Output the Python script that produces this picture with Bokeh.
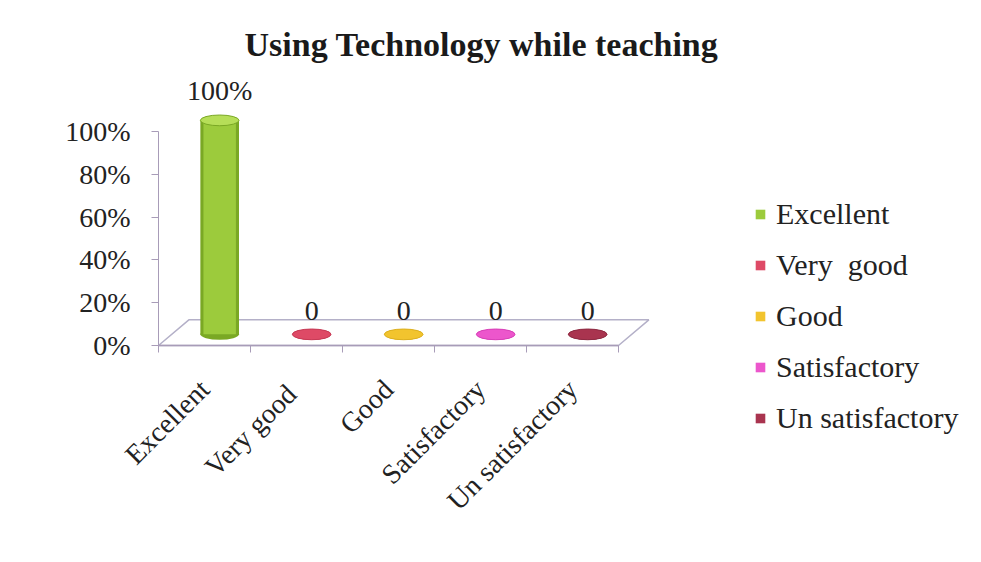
import math
from bokeh.plotting import figure
from bokeh.models import (ColumnDataSource, FixedTicker, NumeralTickFormatter,
                          Range1d, Legend, LegendItem)
from bokeh.embed import file_html
from bokeh.resources import INLINE

# ---------------- data ----------------
categories = ["Excellent", "Very  good", "Good", "Satisfactory", "Un satisfactory"]
values = [1.0, 0.0, 0.0, 0.0, 0.0]
value_labels = ["100%", "0", "0", "0", "0"]
colors = ["#9ccb3c", "#de4a66", "#f2c42e", "#ec56cc", "#a9344f"]
edge_colors = ["#7aa824", "#c73a55", "#ddb020", "#d840b8", "#8e2a42"]
top_colors = ["#b6de58", "#de4a66", "#f2c42e", "#ec56cc", "#a9344f"]
y_ticks = [0, 0.2, 0.4, 0.6, 0.8, 1.0]

# ---------------- styling constants ----------------
FONT = "Liberation Serif"
DX, DY = 0.165, 0.052      # bar offset into depth
FX, FY = 0.33, 0.12        # floor depth
BW = 0.42                  # bar width (category units)
EH = 0.05                  # ellipse height (value units)
AXIS_COLOR = "#a89cb8"
W, H = 965, 546
AXIS_X, TOP = 158, 67      # pixel position of y axis, top of frame
UNIT_X, UNIT_Y = 92.0, 214.0
ZERO_Y = 345

n = len(categories)
xs = list(range(1, n + 1))
bounds = [i + 0.5 for i in range(0, n + 1)]
first, last = bounds[0], bounds[-1]

src = ColumnDataSource(dict(
    x=[x + DX for x in xs],
    bottom=[DY] * n,
    top=[v + DY for v in values],
    color=colors,
    edge=edge_colors,
    topc=top_colors,
    label=value_labels,
    label_y=[v + DY + 0.066 for v in values],
))

y_end = (ZERO_Y - TOP) / UNIT_Y
y_start = -(H - ZERO_Y) / UNIT_Y
x_start = first - AXIS_X / UNIT_X
x_end = first + (W - AXIS_X) / UNIT_X

p = figure(width=W, height=H,
           x_range=Range1d(x_start, x_end), y_range=Range1d(y_start, y_end),
           output_backend="svg", toolbar_location=None,
           min_border_left=0, min_border_right=0,
           min_border_top=TOP, min_border_bottom=0)
p.outline_line_color = None
p.xgrid.visible = False
p.ygrid.visible = False

# title
p.title.text = "Using Technology while teaching"
p.title.text_font = FONT
p.title.text_font_size = "34px"
p.title.text_font_style = "bold"
p.title.text_color = "#1a1a1a"
p.title.align = "left"
p.title.offset = 244

# floor
p.patch([first, last, last + FX, first + FX], [0, 0, FY, FY],
        fill_color="white", line_color="#b4b0c8", line_width=1.5)

# cylinders
p.ellipse(x="x", y="bottom", width=BW, height=EH, fill_color="edge",
          line_color=None, source=src)
p.vbar(x="x", bottom="bottom", top="top", width=BW, fill_color="edge",
       line_color=None, source=src)
body = p.vbar(x="x", bottom="bottom", top="top", width=BW * 0.84,
              fill_color="color", line_color=None, source=src)
p.ellipse(x="x", y="top", width=BW, height=EH, fill_color="topc",
          line_color="edge", line_width=1, source=src)

# value labels
p.text(x="x", y="label_y", text="label", text_align="center",
       text_baseline="bottom", text_font_size="28px", text_color="#222222",
       text_font={"value": FONT}, source=src)

# y axis (drawn at the first category boundary)
ya = p.yaxis[0]
ya.fixed_location = first
ya.ticker = FixedTicker(ticks=y_ticks)
ya.formatter = NumeralTickFormatter(format="0%")
ya.bounds = (0, 1)
ya.axis_line_color = AXIS_COLOR
ya.major_tick_line_color = AXIS_COLOR
ya.major_tick_out = 7
ya.major_tick_in = 0
ya.minor_tick_line_color = None
ya.major_label_text_font = FONT
ya.major_label_text_font_size = "28px"
ya.major_label_text_color = "#222222"
ya.major_label_standoff = 21

# x axis (drawn at value 0)
xa = p.xaxis[0]
xa.fixed_location = 0
xa.ticker = FixedTicker(ticks=xs, minor_ticks=bounds)
xa.major_label_overrides = {x: c for x, c in zip(xs, categories)}
xa.bounds = (first, last)
xa.axis_line_color = AXIS_COLOR
xa.axis_line_width = 1.5
xa.major_tick_line_color = None
xa.minor_tick_line_color = AXIS_COLOR
xa.minor_tick_out = 7
xa.minor_tick_in = 0
xa.major_label_orientation = math.pi / 4
xa.major_label_text_font = FONT
xa.major_label_text_font_size = "28px"
xa.major_label_text_color = "#222222"
xa.major_label_standoff = 32

# legend
items = [LegendItem(label=c, renderers=[body], index=i) for i, c in enumerate(categories)]
legend = Legend(items=items, location=(754, 111), glyph_width=12, glyph_height=12,
                label_height=30, spacing=17, padding=0, margin=0,
                border_line_color=None, background_fill_alpha=0,
                label_standoff=10, label_text_font=FONT,
                label_text_font_size="30px", label_text_color="#222222")
p.add_layout(legend)

open("out.html", "w").write(file_html(p, INLINE))
